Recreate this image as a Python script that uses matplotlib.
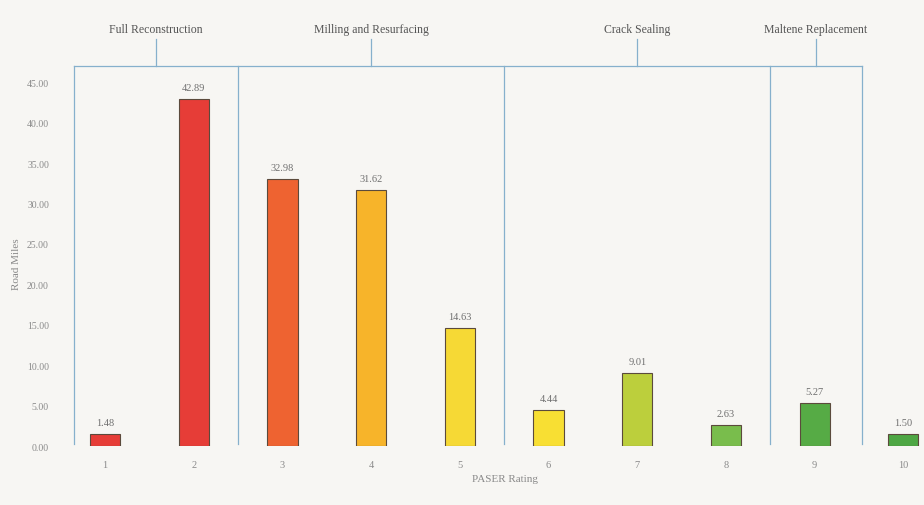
import matplotlib.pyplot as plt
from matplotlib.ticker import FormatStrFormatter

# PASER ratings and road miles per rating
ratings = [1, 2, 3, 4, 5, 6, 7, 8, 9, 10]
road_miles = [1.48, 42.89, 32.98, 31.62, 14.63, 4.44, 9.01, 2.63, 5.27, 1.50]
bar_colors = ['#e63d37', '#e63d37', '#ee6331', '#f7b42a', '#f6d935',
              '#f8df33', '#bccf3c', '#79bd4c', '#56ab45', '#4ea744']

# treatment groups: label and the rating span they cover
group_names = ['Full Reconstruction', 'Milling and Resurfacing',
               'Crack Sealing', 'Maltene Replacement']
group_bounds = [0.65, 2.5, 5.5, 8.5, 9.53]

bg = '#f7f6f3'
line_blue = '#86b0cc'
grey = '#8a8a8a'
serif = ['Liberation Serif', 'DejaVu Serif']

fig = plt.figure(figsize=(9.24, 5.06), dpi=100, facecolor=bg)
ax = fig.add_axes([0.065, 0.1166, 0.935, 0.8834])
ax.set_facecolor(bg)

bars = ax.bar(ratings, road_miles, width=0.34, color=bar_colors,
              edgecolor='#5b4a3c', linewidth=0.8, zorder=3)
for rect, v in zip(bars, road_miles):
    ax.annotate('%.2f' % v, (rect.get_x() + rect.get_width() / 2, v),
                xytext=(0, 5), textcoords='offset points', ha='center',
                va='bottom', fontsize=7.5, color='#6f6f6f', family=serif)

ax.set_xlim(0.493, 10.233)
ax.set_ylim(0, 55.3)

# group brackets across the top
top = 47.0
ax.plot([group_bounds[0], group_bounds[-1]], [top, top], color=line_blue, lw=0.9)
for b in group_bounds:
    ax.plot([b, b], [0.2, top], color=line_blue, lw=0.9)
for name, lo, hi in zip(group_names, group_bounds[:-1], group_bounds[1:]):
    mid = (lo + hi) / 2
    ax.plot([mid, mid], [top, top + 3.4], color=line_blue, lw=0.9)
    ax.text(mid, top + 3.9, name, ha='center', va='bottom', fontsize=8.5,
            color='#555555', family=serif)

for s in ax.spines.values():
    s.set_visible(False)
ax.set_xticks(ratings)
ax.set_yticks(range(0, 50, 5))
ax.yaxis.set_major_formatter(FormatStrFormatter('%.2f'))
ax.tick_params(length=0, colors=grey, labelsize=7)
for lab in ax.get_xticklabels() + ax.get_yticklabels():
    lab.set_family(serif)
ax.tick_params(axis='x', labelsize=7.5, pad=10)
ax.tick_params(axis='y', pad=8)

ax.set_xlabel('PASER Rating', fontsize=8, color=grey, family=serif)
ax.set_ylabel('Road Miles', fontsize=8, color=grey, family=serif)
ax.xaxis.set_label_coords(0.515, -0.062)
ax.yaxis.set_label_coords(-0.045, 0.41)

fig.savefig('out.png', dpi=100, facecolor=bg)
